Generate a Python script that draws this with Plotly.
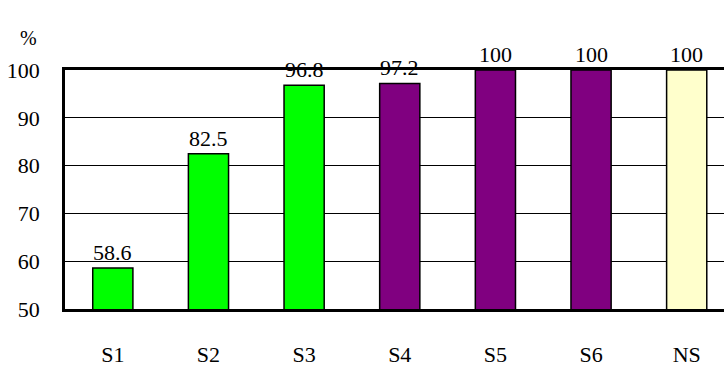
import plotly.graph_objects as go

categories = ["S1", "S2", "S3", "S4", "S5", "S6", "NS"]
values = [58.6, 82.5, 96.8, 97.2, 100, 100, 100]
labels = ["58.6", "82.5", "96.8", "97.2", "100", "100", "100"]
colors = ["#00FF00", "#00FF00", "#00FF00", "#800080", "#800080", "#800080", "#FFFFCC"]
y_ticks = [50, 60, 70, 80, 90, 100]

FONT = "Liberation Serif"

fig = go.Figure()
fig.add_trace(go.Bar(
    x=list(range(len(categories))),
    y=values,
    width=0.42,
    marker=dict(color=colors, line=dict(color="black", width=1.5)),
    cliponaxis=False,
))

for i, (v, t) in enumerate(zip(values, labels)):
    fig.add_annotation(x=i, y=v, text=t, showarrow=False, yanchor="bottom",
                       yshift=1, font=dict(family=FONT, size=22, color="black"))

fig.add_annotation(xref="paper", yref="paper", x=-0.071, y=1.19, text="%",
                   showarrow=False, font=dict(family=FONT, size=20, color="black"))

fig.update_layout(
    width=724, height=367,
    margin=dict(l=65, r=0, t=70, b=48),
    paper_bgcolor="white", plot_bgcolor="white",
    showlegend=False,
    font=dict(family=FONT, size=22, color="black"),
)
fig.update_xaxes(
    range=[-0.5, 6.39],
    tickvals=list(range(len(categories))), ticktext=categories,
    showgrid=False, zeroline=False,
    showline=True, linecolor="black", linewidth=2.5, mirror=True,
    ticks="", ticklabelstandoff=24,
    tickfont=dict(family=FONT, size=22, color="black"),
)
fig.update_yaxes(
    range=[50, 100], tickvals=y_ticks,
    showgrid=True, gridcolor="black", gridwidth=1,
    zeroline=False,
    showline=True, linecolor="black", linewidth=2.5,
    ticks="", ticklabelstandoff=18,
    tickfont=dict(family=FONT, size=22, color="black"),
)

fig.write_html("out.html")
